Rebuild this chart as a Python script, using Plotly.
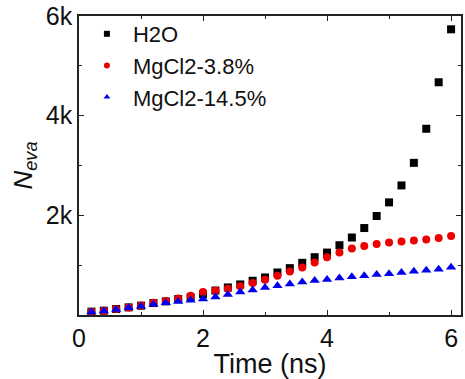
import plotly.graph_objects as go

time_ns = [0.2, 0.4, 0.6, 0.8, 1.0, 1.2, 1.4, 1.6, 1.8, 2.0,
           2.2, 2.4, 2.6, 2.8, 3.0, 3.2, 3.4, 3.6, 3.8, 4.0,
           4.2, 4.4, 4.6, 4.8, 5.0, 5.2, 5.4, 5.6, 5.8, 6.0]
h2o = [67, 87, 120, 153, 187, 240, 273, 320, 353, 420,
       490, 553, 613, 687, 753, 853, 940, 1047, 1160, 1253,
       1400, 1555, 1745, 1987, 2260, 2600, 3053, 3737, 4670, 5733]
mgcl2_38 = [67, 87, 120, 153, 190, 245, 280, 330, 387, 460,
            490, 525, 575, 640, 705, 787, 873, 953, 1053, 1160,
            1253, 1333, 1387, 1427, 1453, 1473, 1493, 1513, 1547, 1587]
mgcl2_145 = [60, 80, 110, 145, 175, 215, 245, 270, 295, 320,
             360, 410, 460, 500, 550, 585, 620, 660, 690, 712,
             740, 767, 787, 813, 827, 853, 880, 900, 920, 960]
series_names = ["H2O", "MgCl2-3.8%", "MgCl2-14.5%"]
x_tickvals = [0, 2, 4, 6]
y_tickvals = [2000, 4000, 6000]
y_ticktext = ["2k", "4k", "6k"]

styles = [("square", "black", 8), ("circle", "#ee0000", 8), ("triangle-up", "#0000ee", 9)]
data = [h2o, mgcl2_38, mgcl2_145]

fig = go.Figure()
for name, ys, (sym, col, sz) in zip(series_names, data, styles):
    fig.add_trace(go.Scatter(x=time_ns, y=ys, mode="markers", name=name, showlegend=False,
                             marker=dict(symbol=sym, color=col, size=sz, line=dict(width=0))))
for name, (sym, col, sz) in zip(series_names, styles):
    fig.add_trace(go.Scatter(x=[None], y=[None], mode="markers", name=name,
                             marker=dict(symbol=sym, color=col, size=6, line=dict(width=0))))

font_family = "Liberation Sans, Arial, sans-serif"
axis_common = dict(showline=True, linecolor="#222", linewidth=1.5, mirror="ticks",
                   ticks="inside", ticklen=5, tickwidth=1.2, tickcolor="#222",
                   showgrid=False, zeroline=False,
                   tickfont=dict(family=font_family, size=25, color="#111"))

fig.update_layout(
    width=465, height=379,
    margin=dict(l=79, r=2, t=15, b=64),
    paper_bgcolor="white", plot_bgcolor="white",
    font=dict(family=font_family, color="#111"),
    xaxis=dict(range=[0, 6.16], tickvals=x_tickvals, ticktext=[str(v) for v in x_tickvals],
               minor=dict(ticks="inside", dtick=1, tick0=0, ticklen=3, tickcolor="#222"),
               title=dict(text="Time (ns)", font=dict(family=font_family, size=27), standoff=0),
               **axis_common),
    yaxis=dict(range=[0, 6000], tickvals=y_tickvals, ticktext=y_ticktext,
               minor=dict(ticks="inside", dtick=1000, tick0=0, ticklen=3, tickcolor="#222"),
               title=dict(text="<i>N</i><sub><i>eva</i></sub>", font=dict(family=font_family, size=26), standoff=6),
               **axis_common),
    legend=dict(x=0.005, y=1.01, xanchor="left", yanchor="top", bgcolor="rgba(0,0,0,0)",
                font=dict(family=font_family, size=22, color="#111"),
                itemwidth=42, itemsizing="trace", tracegroupgap=0),
)

fig.write_html("out.html")
